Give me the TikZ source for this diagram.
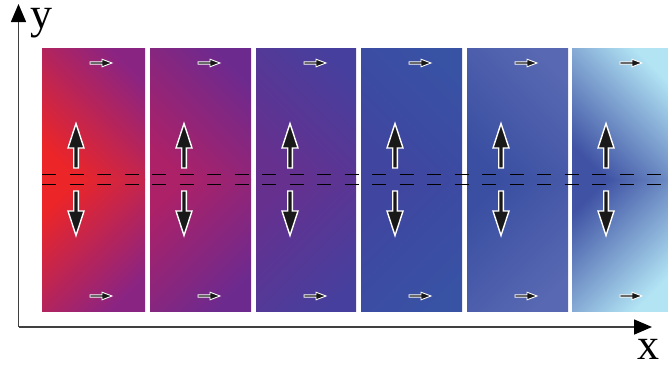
\documentclass[tikz,border=0pt]{standalone}
\usepackage{fontspec}
\setmainfont{Liberation Serif}
\usepackage{tikz}
\usetikzlibrary{arrows.meta,calc}

\begin{document}
\begin{tikzpicture}[x=1pt, y=-1pt,
  panel/.style    ={rectangle, inner sep=0pt, outer sep=0pt,
                    minimum height=263pt},
  axis/.style     ={line width=1.6pt, black!75,
                    -{Triangle[length=18pt, width=15pt, black]}},
  axislabel/.style={inner sep=0pt, font=\fontsize{44}{44}\selectfont},
  arrowbody/.style={fill=black!90, draw=white, line width=1.4pt,
                    line join=miter},
  divider/.style  ={black, line width=0.9pt, dash pattern=on 14pt off 13.5pt},
  bigarrow/.pic   ={\filldraw[arrowbody] (0,1.5) -- (8,26) -- (2.3,26)
                    -- (2.3,46) -- (-2.3,46) -- (-2.3,26) -- (-8,26) -- cycle;},
  smallarrow/.pic ={\filldraw[arrowbody, line width=0.9pt] (0,0) -- (-10,-3.8)
                    -- (-10,-1.1) -- (-22,-1.1) -- (-22,1.1) -- (-10,1.1)
                    -- (-10,3.8) -- cycle;},
]
\useasboundingbox (0,0) rectangle (668,365);

% === Panels (upper and lower halves mirrored) ===
\foreach \i/\xl/\w/\lo/\mi/\hi in {
    1/42/103/EC2528/D02340/8A2483,
    2/150/101/AC2168/8A2685/6C2A8F,
    3/256/100/66308F/55379A/473F9D,
    4/361/101/4045A0/3B4CA2/3852A4,
    5/467/101/3A4FA2/3E55A6/5868B2,
    6/572/96/3F52A4/6677BA/B2E4F4} {
  \definecolor{lo}{HTML}{\lo}
  \definecolor{mi}{HTML}{\mi}
  \definecolor{hi}{HTML}{\hi}
  \node[panel, minimum width=\w, anchor=west] (p\i) at (\xl,179.5) {};
  \shade[left color=lo, middle color=mi, right color=hi, shading angle=135]
    (p\i.north west) rectangle (p\i.east);
  \shade[left color=lo, middle color=mi, right color=hi, shading angle=45]
    (p\i.west) rectangle (p\i.south east);
}

% === Dashed lines ===
\draw[divider] ($(p1.west)+(0,-5.5)$) -- ($(p6.east)+(0,-5.5)$);
\draw[divider] ($(p1.west)+(0,4.5)$) -- ($(p6.east)+(0,4.5)$);

% === Arrows in each panel ===
\foreach \i in {1,...,6} {
  \pic at ($(p\i.north west)+(34,74)$) {bigarrow};
  \pic[rotate=180] at ($(p\i.south west)+(34,-74)$) {bigarrow};
  \pic at ($(p\i.north west)+(70,15)$) {smallarrow};
  \pic at ($(p\i.south west)+(70,-15)$) {smallarrow};
}

% === Axes ===
\coordinate (origin) at (18.5,327);
\coordinate (ytip) at (18.5,4);
\coordinate (xtip) at (652,327);
\draw[axis] (origin) -- (ytip);
\draw[axis] (origin) -- (xtip);
\node[axislabel, anchor=base] (ylabel) at (41,28) {y};
\node[axislabel, anchor=base] (xlabel) at (648,359) {x};

\end{tikzpicture}
\end{document}
